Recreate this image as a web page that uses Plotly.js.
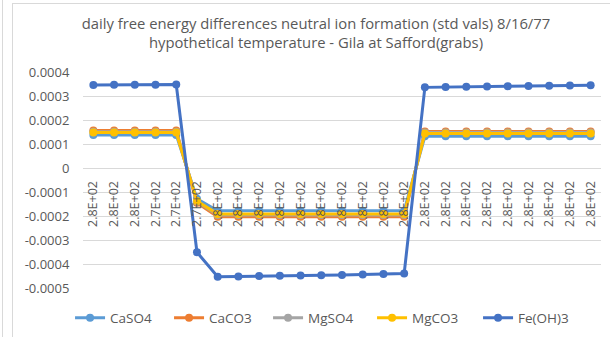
<!DOCTYPE html>
<html>
<head>
<meta charset="utf-8">
<script src="https://cdn.plot.ly/plotly-3.0.1.min.js"></script>
<style>
html,body{margin:0;padding:0;background:#fff;}
#wrap{position:relative;width:610px;height:337px;overflow:hidden;}
#chart{position:absolute;left:0;top:0;width:610px;height:337px;}
#box{position:absolute;left:12px;top:3px;width:640px;height:400px;border:1px solid #d9d9d9;pointer-events:none;}
#vline{position:absolute;left:2px;top:0;width:0;height:337px;border-left:1px solid #d9d9d9;pointer-events:none;}
</style>
</head>
<body>
<div id="wrap">
<div id="chart"></div>
<div id="box"></div>
<div id="vline"></div>
</div>
<script>
var tickLabels = ["2.8E+02","2.8E+02","2.8E+02","2.7E+02","2.7E+02","2.7E+02","2.8E+02","2.8E+02","2.8E+02","2.8E+02","2.8E+02","2.8E+02","2.8E+02","2.8E+02","2.8E+02","2.8E+02","2.8E+02","2.8E+02","2.8E+02","2.8E+02","2.8E+02","2.8E+02","2.8E+02","2.8E+02","2.8E+02"];
var seriesNames = ["CaSO4","CaCO3","MgSO4","MgCO3","Fe(OH)3"];
var CaSO4 = [0.000138,0.000138,0.000138,0.000138,0.000138,-0.000128,-0.000178,-0.000178,-0.000178,-0.000178,-0.000178,-0.000178,-0.000178,-0.000178,-0.000178,-0.000178,0.000132,0.000132,0.000132,0.000132,0.000132,0.000132,0.000132,0.000132,0.000132];
var CaCO3 = [0.000156,0.000156,0.000156,0.000156,0.000156,-0.000145,-0.000203,-0.000203,-0.000203,-0.000203,-0.000203,-0.000203,-0.000203,-0.000203,-0.000203,-0.000203,0.000152,0.000152,0.000152,0.000152,0.000152,0.000152,0.000152,0.000152,0.000152];
var MgSO4 = [0.000151,0.000151,0.000151,0.000151,0.000151,-0.000140,-0.000196,-0.000196,-0.000196,-0.000196,-0.000196,-0.000196,-0.000196,-0.000196,-0.000196,-0.000196,0.000148,0.000148,0.000148,0.000148,0.000148,0.000148,0.000148,0.000148,0.000148];
var MgCO3 = [0.000148,0.000148,0.000148,0.000148,0.000148,-0.000138,-0.000192,-0.000192,-0.000192,-0.000192,-0.000192,-0.000192,-0.000192,-0.000192,-0.000192,-0.000192,0.000144,0.000144,0.000144,0.000144,0.000144,0.000144,0.000144,0.000144,0.000144];
var FeOH3 = [0.000346,0.000347,0.000347,0.000347,0.000348,-0.000351,-0.000453,-0.000452,-0.000450,-0.000449,-0.000448,-0.000447,-0.000446,-0.000444,-0.000442,-0.000440,0.000336,0.000338,0.000339,0.000340,0.000341,0.000342,0.000343,0.000344,0.000345];
var colors = ["#5B9BD5","#ED7D31","#A5A5A5","#FFC000","#4472C4"];
var legendWidths = [54, 54, 59, 61, 58];
var yTicks = [0.0004,0.0003,0.0002,0.0001,0,-0.0001,-0.0002,-0.0003,-0.0004,-0.0005];
var yTickText = ["0.0004","0.0003","0.0002","0.0001","0","-0.0001","-0.0002","-0.0003","-0.0004","-0.0005"];

var xIdx = tickLabels.map(function(_, i){ return i; });
var allData = [CaSO4, CaCO3, MgSO4, MgCO3, FeOH3];
var traces = allData.map(function(arr, k){
  return {
    x: xIdx, y: arr, name: seriesNames[k], type: 'scatter', mode: 'lines+markers',
    line: {color: colors[k], width: 3},
    marker: {color: colors[k], size: 8},
    legendwidth: legendWidths[k]
  };
});

var F = "'Open Sans', sans-serif";
var layout = {
  width: 610, height: 337,
  margin: {l: 83, r: 9, t: 72, b: 49, autoexpand: false},
  paper_bgcolor: 'rgba(255,255,255,0)', plot_bgcolor: 'rgba(255,255,255,0)',
  showlegend: true,
  title: {
    text: "daily free energy differences neutral ion formation (std vals) 8/16/77<br>hypothetical temperature - Gila at Safford(grabs)",
    font: {family: F, size: 14.8, color: '#595959'},
    x: 0.518, xref: 'container', xanchor: 'center',
    y: 1 - 29/337, yref: 'container', yanchor: 'middle'
  },
  xaxis: {
    range: [-0.5, 24.5],
    tickmode: 'array', tickvals: xIdx, ticktext: tickLabels,
    tickangle: -90,
    anchor: 'free', position: 120/216,
    showgrid: false, zeroline: false, showline: false,
    ticks: 'outside', ticklen: 7, tickcolor: 'rgba(0,0,0,0)',
    tickfont: {family: F, size: 12.5, color: '#595959'}
  },
  yaxis: {
    range: [-0.0005, 0.0004],
    tickmode: 'array', tickvals: yTicks, ticktext: yTickText,
    showgrid: true, gridcolor: '#d9d9d9', gridwidth: 1,
    zeroline: true, zerolinecolor: '#d9d9d9', zerolinewidth: 1,
    showline: false,
    ticks: 'outside', ticklen: 10, tickcolor: 'rgba(0,0,0,0)',
    tickfont: {family: F, size: 13, color: '#595959'}
  },
  legend: {
    orientation: 'h', x: -0.025, xanchor: 'left', y: -0.139, yanchor: 'middle',
    font: {family: F, size: 13.5, color: '#595959'},
    itemwidth: 30
  }
};
Plotly.newPlot('chart', traces, layout, {displayModeBar: false, staticPlot: true});
</script>
</body>
</html>
